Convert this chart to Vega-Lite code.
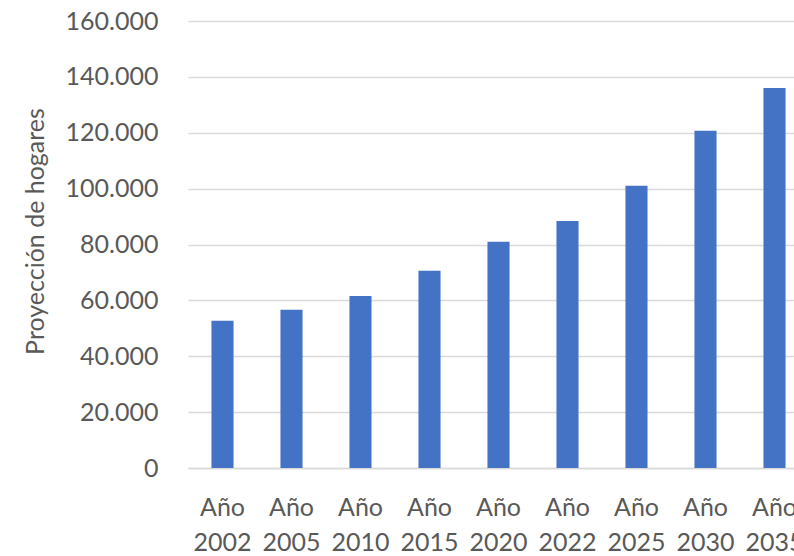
{
  "$schema": "https://vega.github.io/schema/vega-lite/v6.json",
  "autosize": "none",
  "width": 621,
  "height": 447,
  "padding": {"left": 188, "top": 21, "right": 0, "bottom": 88},
  "background": "white",
  "data": {
    "values": [
      {"anio": "Año 2002", "hogares": 52700},
      {"anio": "Año 2005", "hogares": 56600},
      {"anio": "Año 2010", "hogares": 61600},
      {"anio": "Año 2015", "hogares": 70600},
      {"anio": "Año 2020", "hogares": 81000},
      {"anio": "Año 2022", "hogares": 88400},
      {"anio": "Año 2025", "hogares": 101000},
      {"anio": "Año 2030", "hogares": 120700},
      {"anio": "Año 2035", "hogares": 136000}
    ]
  },
  "mark": {"type": "bar", "color": "#4472C4"},
  "encoding": {
    "x": {
      "field": "anio",
      "type": "nominal",
      "sort": null,
      "scale": {"paddingInner": 0.68, "paddingOuter": 0.34},
      "axis": {
        "title": null,
        "labelAngle": 0,
        "labelExpr": "split(datum.label, ' ')",
        "labelFont": "Lato",
        "labelFontSize": 25,
        "labelColor": "#595959",
        "labelLineHeight": 35,
        "labelPadding": 27,
        "labelBaseline": "top",
        "labelOverlap": false,
        "labelBound": false,
        "ticks": false,
        "domain": true,
        "domainColor": "#d9d9d9",
        "domainWidth": 1.5,
        "grid": false
      }
    },
    "y": {
      "field": "hogares",
      "type": "quantitative",
      "scale": {"domain": [0, 160000], "nice": false},
      "axis": {
        "title": "Proyección de hogares",
        "titleFont": "Lato",
        "titleFontSize": 25,
        "titleFontWeight": "normal",
        "titleColor": "#595959",
        "titleAngle": -90,
        "titleX": -153,
        "titleY": 210,
        "titleBaseline": "middle",
        "titleAlign": "center",
        "values": [0, 20000, 40000, 60000, 80000, 100000, 120000, 140000, 160000],
        "labelExpr": "replace(format(datum.value, ',d'), /,/g, '.')",
        "labelFont": "Lato",
        "labelFontSize": 25,
        "labelColor": "#595959",
        "labelPadding": 30,
        "labelOverlap": false,
        "ticks": false,
        "domain": false,
        "grid": true,
        "gridColor": "#d9d9d9",
        "gridWidth": 1.5
      }
    }
  },
  "config": {"view": {"stroke": null}}
}
